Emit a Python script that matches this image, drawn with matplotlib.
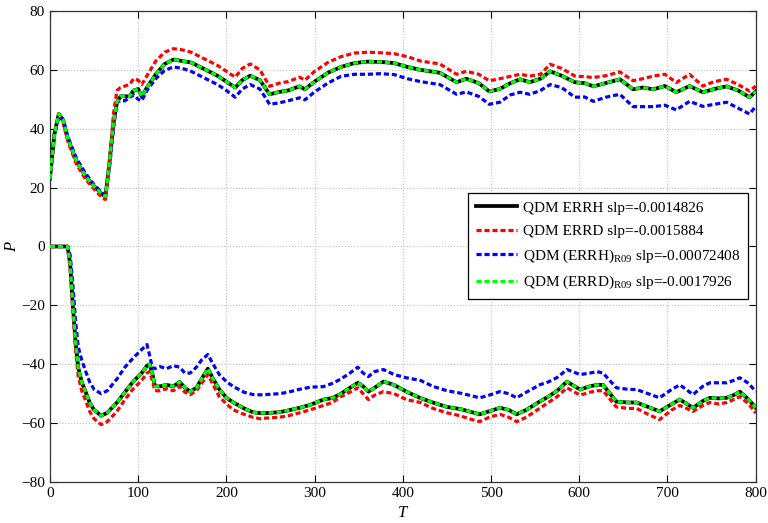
import matplotlib
matplotlib.use("Agg")
import matplotlib.pyplot as plt

# ---------------- data ----------------
t_up = [0, 5, 10, 15, 20, 30, 40, 50, 60, 63, 68, 72, 76, 80, 85, 90, 95, 100, 104, 110, 120, 130, 140,
        150, 160, 170, 180, 190, 200, 210, 218, 227, 238, 249, 260, 270, 283, 289, 300, 315, 330, 345,
        360, 375, 390, 405, 420, 442, 461, 472, 486, 498, 510, 522, 533, 544, 556, 567, 580, 595, 606,
        616, 630, 646, 661, 672, 684, 697, 710, 725, 740, 753, 767, 780, 793, 800]

errh_up = [23, 38, 45, 43, 37, 29, 24, 20.5, 17.5, 17, 30, 42, 49, 51, 51, 51, 53, 53.5, 51, 54, 58.5, 62, 63.5,
           63, 62.5, 61, 59.5, 58, 56, 54, 56.5, 58, 56.5, 51.7, 52.5, 53, 54.4, 53.4, 56, 59, 61, 62.3,
           62.8, 62.7, 62.3, 61, 60, 59, 55.8, 57, 55.5, 52.7, 53.5, 55.5, 56.8, 55.8, 57, 59.5, 58, 55.8, 55.5,
           54.4, 55.5, 56.8, 53.4, 54, 53.4, 54.5, 52.4, 54.5, 52.4, 53.5, 54.4, 53, 50.7, 52.7]

errd_up = [23, 38, 44.5, 42, 36, 28, 23, 19.5, 16.3, 16, 30, 45, 53, 54, 54.5, 55, 57, 56.5, 55, 58, 63, 66, 67.2,
           66.8, 66, 64.5, 63, 61.5, 59.5, 57.5, 60.5, 62, 60, 54.4, 55.5, 56, 57.5, 56.5, 59.5, 62.5, 64.5, 65.7,
           66, 65.8, 65.5, 64.5, 63, 62, 58.5, 59.5, 58.5, 56.3, 57, 57.8, 58.5, 57.9, 58.5, 61.9, 60.5, 57.9, 57.7,
           57.4, 58, 59.3, 56.3, 57, 57.9, 58.5, 55.7, 58.5, 54.5, 56, 56.8, 55, 52.8, 54.5]

errh_r09_up = [23, 38, 44, 43, 37.5, 30, 25, 21, 18, 17.5, 28, 40, 49, 49.5, 49.5, 50.5, 51.5, 50, 49.5, 53, 57, 59.8, 61,
               60.5, 59.5, 58, 56.5, 55, 53, 50.7, 53.5, 55, 53.5, 48.3, 48.8, 49.5, 50.5, 49.8, 52.5, 55.5, 57.8, 58.5,
               58.5, 58.7, 58.4, 57, 56, 55, 51.7, 52.5, 51, 48.3, 49, 51.5, 52.4, 51.7, 53, 55, 54, 50.7, 50.8,
               49.3, 50.7, 51.7, 47.5, 47.5, 47.5, 48, 46.4, 49.3, 47.6, 48.3, 49, 47, 45, 47.6]

errd_r09_up = [23, 38, 45, 43, 37, 29, 24, 20.5, 17.5, 17, 30, 42, 49, 51, 51, 51, 53, 53.5, 51, 54, 58.5, 62, 63.5,
               63, 62.5, 61, 59.5, 58, 56, 54, 56.5, 58, 56.5, 51.7, 52.5, 53, 54.4, 53.4, 56, 59, 61, 62.3,
               62.8, 62.7, 62.3, 61, 60, 59, 55.8, 57, 55.5, 52.7, 53.5, 55.5, 56.8, 55.8, 57, 59.5, 58, 55.8, 55.5,
               54.4, 55.5, 56.8, 53.4, 54, 53.4, 54.5, 52.4, 54.5, 52.4, 53.5, 54.4, 53, 50.7, 52.7]

t_lo = [0, 10, 20, 23, 26, 29, 32, 36, 40, 45, 50, 58, 65, 76, 85, 94, 104, 110, 113, 116, 119, 125, 132, 140,
        147, 153, 159, 166, 172, 179, 185, 192, 200, 208, 220, 230, 238, 245, 260, 270, 283, 295, 310, 320,
        330, 340, 349, 355, 361, 368, 378, 390, 404, 420, 434, 450, 465, 475, 487, 498, 510, 520, 529, 540,
        555, 565, 575, 586, 601, 612, 620, 627, 642, 655, 665, 678, 691, 705, 714, 729, 740, 748, 758, 767,
        775, 782, 792, 800]

errh_lo = [0, 0, 0, -6, -20, -32, -41, -46, -49, -53, -55.5, -57.5, -56.5, -53, -49.5, -46, -43, -40.5, -40, -43, -47.5, -47.5, -47, -47.5,
           -46, -48, -49.3, -48, -45, -41.5, -45, -48.5, -51.4, -53, -55, -56.3, -56.6, -56.6, -56.3, -55.7, -54.8, -53.8, -52, -51.5,
           -50, -48, -46.3, -47.5, -49.3, -48, -45.9, -47, -49.3, -51.5, -53, -54.5, -55.2, -56, -57, -56, -54.8, -55.5, -57, -55.5,
           -52.7, -51, -49, -45.9, -48.6, -47.5, -47, -47, -52.7, -53, -53, -54.5, -56, -53.5, -52, -54.8, -52.5, -51.4, -51.6, -51.4,
           -50.5, -49.3, -52, -54.8]

errd_lo = [0, 0, 0, -8, -22, -35, -44, -49, -52, -56, -58.5, -60.5, -59.5, -56, -52, -48.5, -45.5, -43, -42.5, -45.5, -49, -49, -48.3, -49,
           -47.5, -49.5, -50.3, -49, -46.5, -43.5, -47, -51, -53.5, -55.5, -57, -58, -58.5, -58.3, -58, -57.5, -56.5, -55.5, -54, -53,
           -51, -49.5, -48, -50, -52, -50.5, -49.3, -50, -52, -53, -55, -56.5, -57.5, -58.5, -59.5, -58, -57, -58, -59.5, -58,
           -55, -53, -51, -48, -50.5, -49.5, -49, -49, -54.5, -55, -55, -57, -58.8, -55.5, -54, -56, -54, -53, -53.5, -53,
           -52, -51, -53.5, -56.6]

errh_r09_lo = [0, 0, 0, -3, -13, -25, -34, -38.5, -42, -46, -48.5, -50, -49, -45, -41, -38, -35, -33.3, -37, -41, -41.5, -40.8, -41.5, -40.5,
               -41, -43, -43, -41, -38.5, -36.7, -40, -43.5, -45.9, -47.6, -49.5, -50.3, -50.4, -50.3, -50, -49.5, -48.5, -47.8, -47.6, -46.5,
               -45, -43, -41, -43, -44.2, -42.5, -41.8, -43.5, -44.6, -45.5, -47.5, -49, -49.8, -50.5, -51.4, -50.5, -49.3, -50, -51.4, -49.5,
               -47, -46, -44.5, -41.8, -43.5, -43, -42.5, -43, -48, -48.5, -48.6, -50, -51.4, -48.5, -47, -50.3, -47.5, -46.3, -46.3, -46.3,
               -45.5, -44.6, -46.5, -49.3]

errd_r09_lo = [0, 0, 0, -6, -20, -32, -41, -46, -49, -53, -55.5, -57.5, -56.5, -53, -49.5, -46, -43, -40.5, -40, -43, -47.5, -47.5, -47, -47.5,
               -46, -48, -49.3, -48, -45, -41.5, -45, -48.5, -51.4, -53, -55, -56.3, -56.6, -56.6, -56.3, -55.7, -54.8, -53.8, -52, -51.5,
               -50, -48, -46.3, -47.5, -49.3, -48, -45.9, -47, -49.3, -51.5, -53, -54.5, -55.2, -56, -57, -56, -54.8, -55.5, -57, -55.5,
               -52.7, -51, -49, -45.9, -48.6, -47.5, -47, -47, -52.7, -53, -53, -54.5, -56, -53.5, -52, -54.8, -52.5, -51.4, -51.6, -51.4,
               -50.5, -49.3, -52, -54.8]

labels = ["QDM ERRH slp=-0.0014826",
          "QDM ERRD slp=-0.0015884",
          r"QDM (ERRH)$_{\rm R09}$ slp=-0.00072408",
          r"QDM (ERRD)$_{\rm R09}$ slp=-0.0017926"]
x_ticks = [0, 100, 200, 300, 400, 500, 600, 700, 800]
y_ticks = [-80, -60, -40, -20, 0, 20, 40, 60, 80]

# ---------------- style ----------------
plt.rcParams['font.family'] = ['Liberation Serif', 'DejaVu Serif']
plt.rcParams['mathtext.fontset'] = 'custom'
plt.rcParams['mathtext.rm'] = 'Liberation Serif'
plt.rcParams['mathtext.it'] = 'Liberation Serif:italic'

fig = plt.figure(figsize=(7.68, 5.23), dpi=100)
ax = fig.add_axes([0.065, 0.0784, 0.919, 0.9006])

lw = 2.3
dash = (1.6, 0.9)
l1, = ax.plot(t_up, errh_up, color='black', lw=lw + 0.4, solid_joinstyle='round', label=labels[0], zorder=2)
ax.plot(t_lo, errh_lo, color='black', lw=lw + 0.4, zorder=2)
l2, = ax.plot(t_up, errd_up, color='red', lw=lw, dashes=dash, label=labels[1], zorder=3)
ax.plot(t_lo, errd_lo, color='red', lw=lw, dashes=dash, zorder=3)
l3, = ax.plot(t_up, errh_r09_up, color='blue', lw=lw, dashes=dash, label=labels[2], zorder=3)
ax.plot(t_lo, errh_r09_lo, color='blue', lw=lw, dashes=dash, zorder=3)
l4, = ax.plot(t_up, errd_r09_up, color='#00ff00', lw=lw, dashes=dash, label=labels[3], zorder=4)
ax.plot(t_lo, errd_r09_lo, color='#00ff00', lw=lw, dashes=dash, zorder=4)

ax.set_xlim(0, 800)
ax.set_ylim(-80, 80)
ax.set_xticks(x_ticks)
ax.set_yticks(y_ticks)
ax.tick_params(direction='in', top=True, right=True, labelsize=11, length=5, width=0.8)
ax.grid(True, color='#c0c0c0', linestyle=':', linewidth=0.8)
for s in ax.spines.values():
    s.set_color('#333333')
    s.set_linewidth(0.9)

ax.set_xlabel('T', fontsize=12, style='italic', labelpad=4)
ax.set_ylabel('P', fontsize=12, style='italic', labelpad=1)

leg = ax.legend(handles=[l1, l2, l3, l4], loc='upper right', bbox_to_anchor=(1.0, 0.629),
                fontsize=11, fancybox=False, edgecolor='black', framealpha=1,
                handlelength=2.7, handletextpad=0.4, labelspacing=0.62, borderpad=0.5)
leg.get_frame().set_linewidth(0.9)

fig.savefig('out.png', dpi=100)
